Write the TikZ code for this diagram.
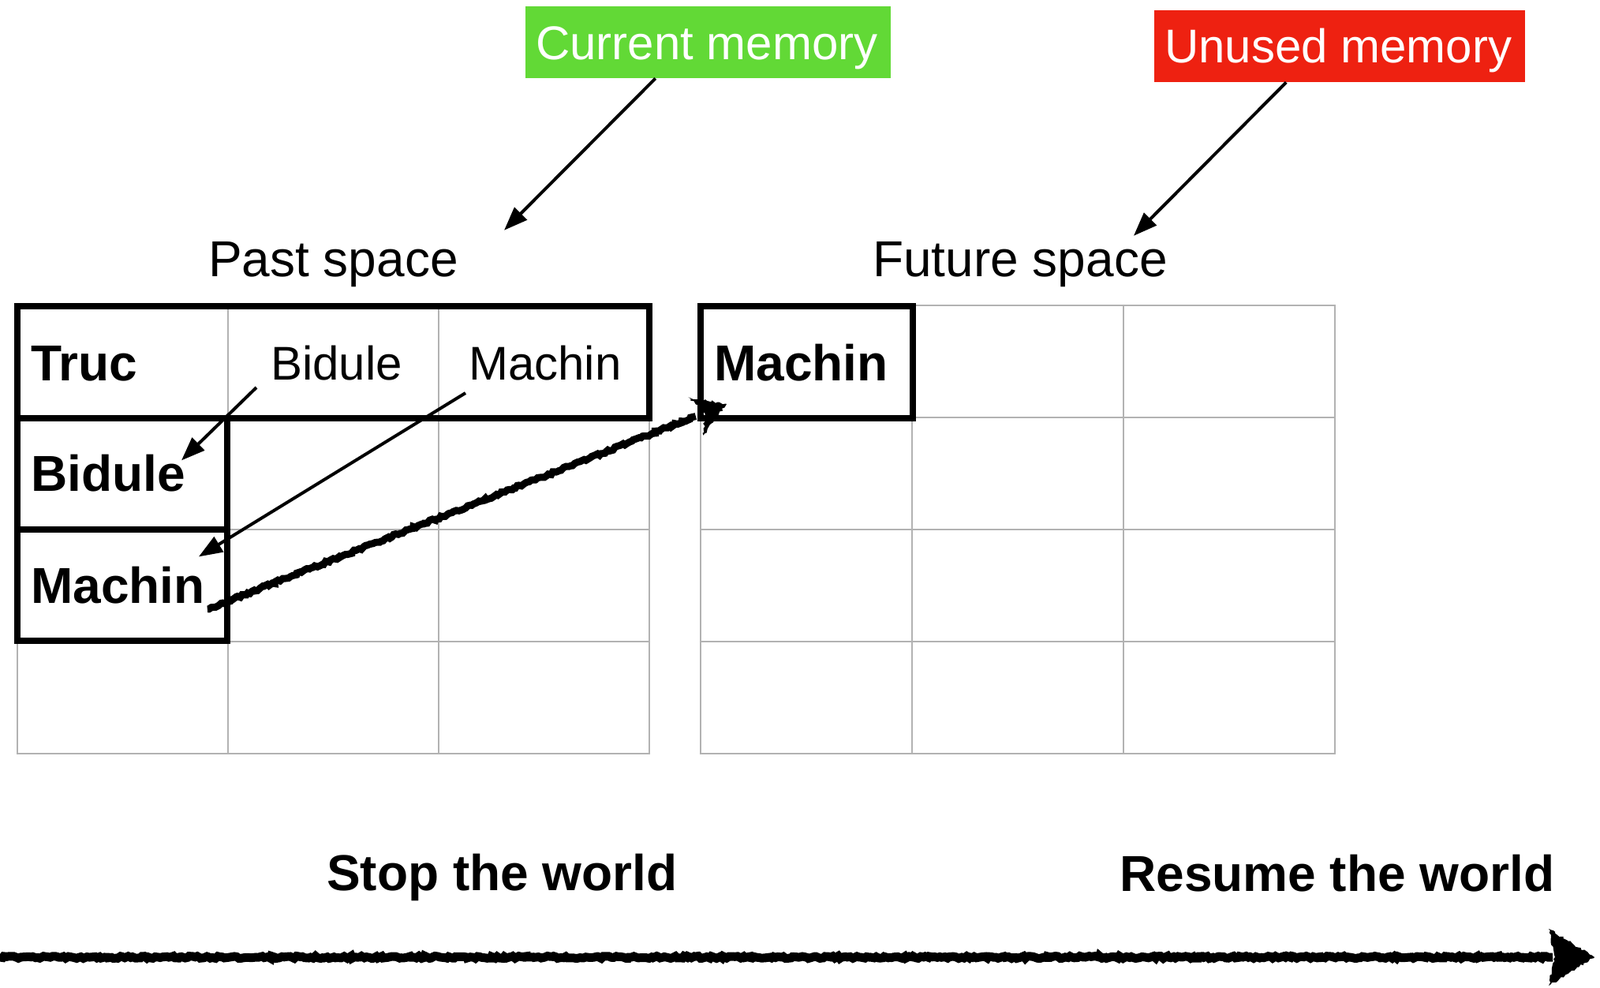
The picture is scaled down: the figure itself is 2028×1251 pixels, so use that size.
\documentclass[tikz,border=0pt]{standalone}
\usepackage{fontspec}
\setmainfont{Liberation Sans}
\usetikzlibrary{arrows.meta,calc,decorations.pathmorphing}
\definecolor{curgreen}{RGB}{98,217,54}
\definecolor{unred}{RGB}{238,33,17}
\definecolor{gridgray}{RGB}{178,178,178}
\tikzset{
 lbl/.style={inner sep=0pt, anchor=base west, font=\fontsize{64}{77}\selectfont},
 slbl/.style={inner sep=0pt, anchor=base west, font=\fontsize{60}{72}\selectfont},
 blbl/.style={inner sep=0pt, anchor=base west, font=\fontsize{64}{77}\selectfont\bfseries},
 tag/.style={inner sep=0pt, anchor=base west, text=white, font=\fontsize{60}{72}\selectfont},
 tagbox/.style={inner sep=0pt, anchor=north west},
 thickbox/.style={line width=8pt, line join=miter},
 gridline/.style={draw=gridgray, line width=2.5pt, line cap=rect},
 thinarrow/.style={line width=4pt, -{Triangle[length=30pt,width=22pt]}},
 rough/.style={decorate, decoration={random steps, segment length=3pt, amplitude=1.5pt}},
}
\begin{document}
\begin{tikzpicture}[x=1pt,y=-1pt]
\useasboundingbox (0,0) rectangle (2028,1251);
% grey grids
\foreach \x in {22,289,556,823} \draw[gridline] (\x,387) -- (\x,955);
\foreach \y in {387,529,671,813,955} \draw[gridline] (22,\y) -- (823,\y);
\foreach \x in {888,1156,1424,1692} \draw[gridline] (\x,387) -- (\x,955);
\foreach \y in {387,529,671,813,955} \draw[gridline] (888,\y) -- (1692,\y);
% thick boxes
\draw[thickbox] (22,387.5) rectangle (823,529.5);
\draw[thickbox] (22,529.5) rectangle (288,671);
\draw[thickbox] (22,671) rectangle (288,812);
\draw[thickbox] (888,387.5) rectangle (1157,529.5);
% tags
\node[tagbox, fill=curgreen, minimum width=463pt, minimum height=91pt] (curbox) at (666,8) {};
\node[tag] (cur) at (679,75) {Current memory};
\node[tagbox, fill=unred, minimum width=470pt, minimum height=91pt] (unbox) at (1463,13) {};
\node[tag] (unused) at (1476,79) {Unused memory};
% labels
\node[lbl] (past) at (264,350) {Past space};
\node[lbl] (future) at (1106,350) {Future space};
\node[blbl] (truc) at (39,482) {Truc};
\node[slbl] (bidA) at (343,481) {Bidule};
\node[slbl] (macA) at (594,481) {Machin};
\node[blbl] (bidB) at (39,622) {Bidule};
\node[blbl] (macB) at (39,764) {Machin};
\node[blbl] (macC) at (905,482) {Machin};
\node[blbl] (stop) at (414,1128) {Stop the world};
\node[blbl] (resume) at (1419,1129) {Resume the world};
% thin arrows
\draw[thinarrow] ($(curbox.south)+(-67,0)$) -- ($(past.north east)+(58,-14)$);
\draw[thinarrow] ($(unbox.south)+(-68,0)$) -- ($(future.north east)+(-43,-7)$);
\draw[thinarrow] ($(bidA.base west)+(-18,10)$) -- ($(bidB.north east)+(-5,8)$);
\draw[thinarrow] ($(macA.base west)+(-4,17)$) -- ($(macB.north east)+(-8,-12)$);
% sketchy copy arrow
\coordinate (cs) at ($(macB.base east)+(3,8)$);
\coordinate (ct) at ($(macC.base west)+(16,30)$);
\coordinate (cb) at ($(ct)!42pt!(cs)$);
\draw[rough, line width=9pt] (cs) -- (cb);
\fill[rough] (ct) -- ($(cb)!26pt!90:(ct)$) -- ($(ct)!30pt!(cs)$) -- ($(cb)!26pt!-90:(ct)$) -- cycle;
% time line
\coordinate (tl) at (0,1213);
\coordinate (tr) at (2021,1213);
\coordinate (tb) at ($(tr)+(-58,0)$);
\draw[rough, line width=11pt] (tl) -- ($(tb)+(5,0)$);
\fill[rough] (tr) -- ($(tb)+(0,-36)$) -- ($(tb)+(8,0)$) -- ($(tb)+(0,36)$) -- cycle;
\end{tikzpicture}
\end{document}
